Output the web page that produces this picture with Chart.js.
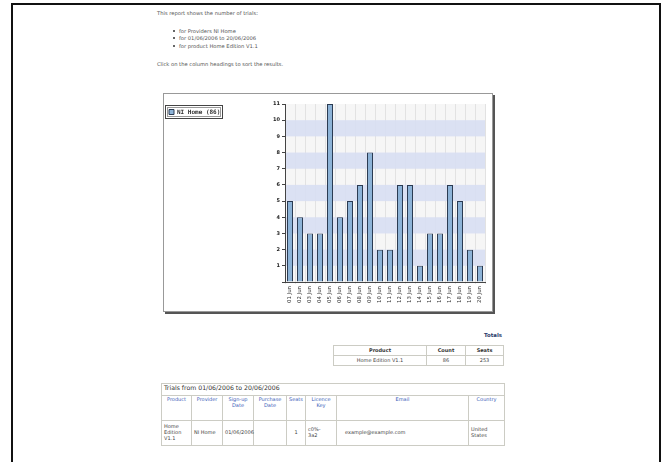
<!DOCTYPE html>
<html>
<head>
<meta charset="utf-8">
<script src="https://cdn.jsdelivr.net/npm/chart.js@4.4.0/dist/chart.umd.min.js"></script>
<style>
body { margin: 0; background: #fff; font-family: "DejaVu Sans", Verdana, sans-serif; color: #555; }
#frame { position: absolute; left: 11px; top: 3px; width: 646px; height: 480px; border: 2px solid #111; }
.t { position: absolute; font-size: 5.2px; line-height: 6px; white-space: nowrap; }
.dot { position: absolute; width: 2px; height: 2px; border-radius: 1px; background: #333; }
#panel { position: absolute; left: 163px; top: 93px; width: 328px; height: 217px; border: 1px solid #999; box-shadow: 2px 2px 0 #555; background: #fff; }
#totalsTitle { position: absolute; left: 470px; width: 32px; top: 332px; text-align: right; font-size: 5.4px; font-weight: bold; color: #2a3a6a; }
table { position: absolute; border-collapse: collapse; font-size: 5px; line-height: 5.8px; table-layout: fixed; }
td, th { border: 1px solid #ccccc4; padding: 0 2px; }
#totals { left: 333px; top: 345px; width: 170px; }
#totals th { height: 9px; font-weight: bold; color: #333; text-align: center; }
#totals td { height: 9px; text-align: center; color: #444; }
#trials { left: 161px; top: 383px; width: 343px; border: 1px solid #ccccc4; }
#trials .cap { height: 10px; font-size: 6.2px; color: #333; text-align: left; font-weight: normal; }
#trials th { height: 23px; color: #3a5cb8; font-weight: normal; text-align: center; vertical-align: top; padding-top: 1px; }
#trials td { height: 24px; color: #444; text-align: left; }
</style>
</head>
<body>
<div id="frame"></div>

<div class="t" style="left:157px;top:10px;">This report shows the number of trials:</div>
<div class="dot" style="left:173px;top:30px;"></div>
<div class="t" style="left:179px;top:28px;">for Providers NI Home</div>
<div class="dot" style="left:173px;top:37px;"></div>
<div class="t" style="left:179px;top:35px;">for 01/06/2006 to 20/06/2006</div>
<div class="dot" style="left:173px;top:45px;"></div>
<div class="t" style="left:179px;top:43px;">for product Home Edition V1.1</div>
<div class="t" style="left:157px;top:61px;">Click on the column headings to sort the results.</div>

<div id="panel"><canvas id="myChart" width="328" height="217"></canvas></div>

<div id="totalsTitle">Totals</div>
<table id="totals">
  <colgroup><col style="width:93px"><col style="width:39px"><col style="width:38px"></colgroup>
  <tr><th>Product</th><th>Count</th><th>Seats</th></tr>
  <tr><td>Home Edition V1.1</td><td>86</td><td>253</td></tr>
</table>

<table id="trials">
  <colgroup>
    <col style="width:30px"><col style="width:31px"><col style="width:31px"><col style="width:33px">
    <col style="width:19px"><col style="width:31px"><col style="width:132px"><col style="width:36px">
  </colgroup>
  <tr><th class="cap" colspan="8">Trials from 01/06/2006 to 20/06/2006</th></tr>
  <tr><th>Product</th><th>Provider</th><th>Sign-up<br>Date</th><th>Purchase<br>Date</th><th>Seats</th><th>Licence<br>Key</th><th>Email</th><th>Country</th></tr>
  <tr><td>Home<br>Edition<br>V1.1</td><td>NI Home</td><td>01/06/2006</td><td></td><td style="text-align:center">1</td><td>c0%-<br>3a2</td><td style="padding-left:8px">example@example.com</td><td>United<br>States</td></tr>
</table>

<script>
var days = ['01 Jun', '02 Jun', '03 Jun', '04 Jun', '05 Jun', '06 Jun', '07 Jun', '08 Jun', '09 Jun', '10 Jun',
            '11 Jun', '12 Jun', '13 Jun', '14 Jun', '15 Jun', '16 Jun', '17 Jun', '18 Jun', '19 Jun', '20 Jun'];
var trials = [5, 4, 3, 3, 11, 4, 5, 6, 8, 2, 2, 6, 6, 1, 3, 3, 6, 5, 2, 1];
var seriesLabel = 'NI Home (86)';
var yLabels = ['', '1', '2', '3', '4', '5', '6', '7', '8', '9', '10', '11'];

// alternating horizontal bands behind the bars
var bands = {
    id: 'bands',
    beforeDraw: function (chart) {
        var a = chart.chartArea, c = chart.ctx;
        c.save();
        c.fillStyle = '#f6f6f6';
        c.fillRect(a.left, a.top, a.right - a.left, a.bottom - a.top);
        c.restore();
    },
    beforeDatasetsDraw: function (chart) {
        var a = chart.chartArea, c = chart.ctx, y = chart.scales.y;
        c.save();
        c.fillStyle = 'rgba(216, 223, 243, 0.9)';
        for (var v = 1; v < 11; v += 2) {
            var top = y.getPixelForValue(v + 1), bot = y.getPixelForValue(v);
            c.fillRect(a.left + 1, top, a.right - a.left - 1, bot - top);
        }
        c.restore();
    }
};

// fixed legend column on the left, with a framed box around the item
var legendBox = {
    id: 'legendBox',
    beforeInit: function (chart) {
        var fit = chart.legend.fit;
        chart.legend.fit = function () {
            fit.call(this);
            this.width = 100;
        };
    },
    afterDraw: function (chart) {
        var hb = chart.legend.legendHitBoxes[0], c = chart.ctx;
        if (!hb) return;
        c.save();
        c.strokeStyle = '#444';
        c.lineWidth = 1;
        c.strokeRect(Math.round(hb.left) - 3.5, Math.round(hb.top) - 3.5, 57, Math.round(hb.height) + 7);
        c.strokeStyle = '#999';
        c.strokeRect(Math.round(hb.left) - 1.5, Math.round(hb.top) - 1.5, 53, Math.round(hb.height) + 3);
        c.restore();
    }
};

var ctx = document.getElementById('myChart').getContext('2d');
var myChart = new Chart(ctx, {
    type: 'bar',
    data: {
        labels: days,
        datasets: [{
            label: seriesLabel,
            data: trials,
            backgroundColor: '#8db3d7',
            borderColor: '#2b3b52',
            borderWidth: 1,
            barPercentage: 0.6,
            categoryPercentage: 1
        }]
    },
    options: {
        responsive: false,
        animation: false,
        layout: {
            padding: { top: 10, right: 7, bottom: 0, left: 0 }
        },
        plugins: {
            tooltip: { enabled: false },
            legend: {
                position: 'left',
                align: 'start',
                labels: {
                    boxWidth: 5,
                    boxHeight: 5,
                    padding: 5,
                    color: '#333',
                    font: { family: 'DejaVu Sans Mono', size: 6, weight: 'bold' }
                }
            }
        },
        scales: {
            y: {
                min: 0,
                max: 11,
                afterFit: function (s) { s.width = 21; },
                ticks: {
                    stepSize: 1,
                    padding: 2,
                    color: '#222',
                    font: { family: 'DejaVu Sans', size: 5, weight: 'bold' },
                    callback: function (v, i) { return yLabels[i]; }
                },
                grid: { drawOnChartArea: false, tickLength: 3, color: '#444' },
                border: { color: '#444', width: 1 }
            },
            x: {
                afterFit: function (s) { s.height = 29; },
                ticks: {
                    autoSkip: false,
                    maxRotation: 90,
                    minRotation: 90,
                    padding: 2,
                    color: '#333',
                    font: { family: 'DejaVu Sans', size: 5.4 }
                },
                grid: { color: '#e2e2e2', tickLength: 2 },
                border: { color: '#444', width: 1 }
            }
        }
    },
    plugins: [bands, legendBox]
});
</script>
</body>
</html>
